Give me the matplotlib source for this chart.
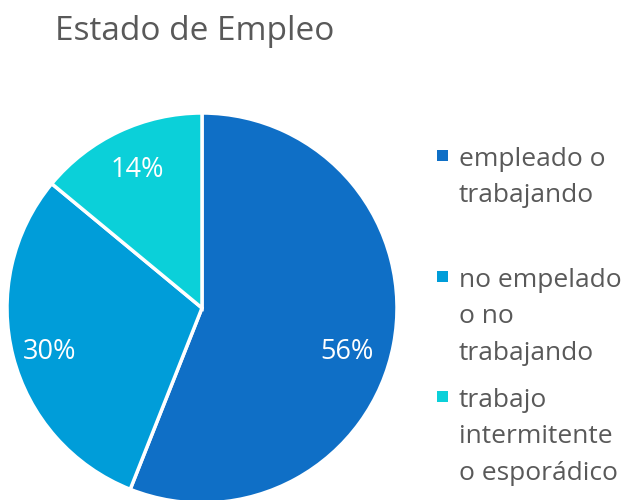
import matplotlib.pyplot as plt
from matplotlib.patches import Rectangle

categories = ["empleado o\ntrabajando", "no empelado\no no\ntrabajando", "trabajo\nintermitente\no esporádico"]
shares = [56, 30, 14]
colors = ["#0F6FC6", "#009DD9", "#0BD0D9"]

plt.rcParams['font.family'] = ['Open Sans', 'DejaVu Sans']
text_gray = "#595959"

fig = plt.figure(figsize=(6.22, 5), dpi=100)

# pie: center ~ (202, 308) px from top, radius ~195 px
r = 195
ax = fig.add_axes([(202 - r) / 622, (192 - r) / 500, 2 * r / 622, 2 * r / 500])
wedges, texts, autotexts = ax.pie(
    shares, colors=colors, startangle=90, counterclock=False,
    autopct='%d%%', pctdistance=0.79,
    wedgeprops=dict(edgecolor='white', linewidth=2.5),
    textprops=dict(color='white', fontsize=19.5))
ax.set_xlim(-1, 1)
ax.set_ylim(-1, 1)
ax.set_aspect('equal')

# Excel's "best fit" label spots
label_spots = [(0.744, -0.226), (-0.78, -0.226), (-0.333, 0.708)]
for t, pos in zip(autotexts, label_spots):
    t.set_position(pos)

fig.text(55 / 622, 1 - 31 / 500, "Estado de Empleo", fontsize=24, color=text_gray,
         va='center', ha='left')

# legend drawn by hand to keep Excel-like spacing
legend_tops = [147, 268, 388]
for label, color, top in zip(categories, colors, legend_tops):
    fig.text(459 / 622, 1 - top / 500, label, fontsize=19, color=text_gray,
             va='top', ha='left', linespacing=1.6)
    fig.add_artist(Rectangle((437 / 622, 1 - (top + 14) / 500), 11 / 622, 11 / 500,
                             facecolor=color, edgecolor='none',
                             transform=fig.transFigure))

fig.savefig("out.png", dpi=100)
